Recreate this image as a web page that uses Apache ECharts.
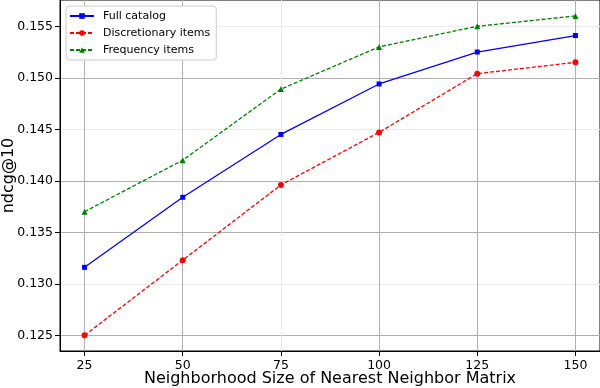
<!DOCTYPE html>
<html>
<head>
<meta charset="utf-8">
<script src="https://cdn.jsdelivr.net/npm/echarts@6/dist/echarts.min.js"></script>
<style>
  html, body { margin: 0; padding: 0; background: #fff; }
  #chart { width: 600px; height: 388px; }
</style>
</head>
<body>
<div id="chart"></div>
<script>
// neighborhood sizes
const sizes = [25, 50, 75, 100, 125, 150]
const yTicks = [0.125, 0.130, 0.135, 0.140, 0.145, 0.150, 0.155]

const fullCatalog = [0.1316, 0.1384, 0.1445, 0.1494, 0.1525, 0.1541]
const discretionary = [0.1250, 0.1323, 0.1396, 0.1447, 0.1504, 0.1515]
const frequency = [0.1370, 0.1420, 0.1489, 0.1530, 0.1550, 0.1560]

const font = 'DejaVu Sans'
const dark = '#b0b0b0'
const light = '#ebebeb'

const pairs = (vals) => sizes.map((s, i) => [s, vals[i]])

const chart = echarts.init(document.getElementById('chart'), null, { renderer: 'canvas' })

const option = {
  animation: false,
  backgroundColor: '#fff',
  textStyle: { fontFamily: font },
  grid: {
    left: 60,
    right: 0,
    top: 0,
    bottom: 37,
    outerBoundsMode: 'none',
    containLabel: false,
    show: true,
    borderColor: '#000',
    borderWidth: 1,
    backgroundColor: 'transparent',
  },
  legend: {
    left: 66,
    top: 6,
    orient: 'vertical',
    itemWidth: 24,
    itemHeight: 7,
    itemGap: 3,
    padding: [3, 6, 3, 3],
    backgroundColor: '#fff',
    borderColor: '#cccccc',
    borderWidth: 1,
    borderRadius: 3,
    textStyle: {
      fontFamily: font,
      fontSize: 11,
      lineHeight: 14,
      color: '#000',
      padding: [0, 0, 0, 4],
    },
    data: ['Full catalog', 'Discretionary items', 'Frequency items'],
  },
  xAxis: {
    type: 'value',
    min: 18.75,
    max: 156.25,
    name: 'Neighborhood Size of Nearest Neighbor Matrix',
    nameLocation: 'middle',
    nameGap: 20,
    nameMoveOverlap: false,
    nameTextStyle: { fontFamily: font, fontSize: 16, color: '#000' },
    axisLine: { onZero: false, lineStyle: { color: '#000', width: 1 } },
    axisTick: { show: true, inside: false, length: 5, customValues: sizes, lineStyle: { color: '#000' } },
    axisLabel: {
      customValues: sizes,
      margin: 8,
      fontFamily: font,
      fontSize: 12.5,
      color: '#000',
    },
    splitLine: {
      show: true,
      lineStyle: { color: [dark, dark, light, dark, dark, dark], width: 1 },
    },
  },
  yAxis: {
    type: 'value',
    min: 0.12348,
    max: 0.15755,
    name: 'ndcg@10',
    nameLocation: 'middle',
    nameGap: 43,
    nameMoveOverlap: false,
    nameTextStyle: { fontFamily: font, fontSize: 16, color: '#000' },
    axisLine: { show: true, onZero: false, lineStyle: { color: '#000', width: 1 } },
    axisTick: { show: true, inside: false, length: 5, customValues: yTicks, lineStyle: { color: '#000' } },
    axisLabel: {
      customValues: yTicks,
      margin: 7,
      fontFamily: font,
      fontSize: 12.5,
      color: '#000',
      formatter: (v) => v.toFixed(3),
    },
    splitLine: {
      show: true,
      lineStyle: { color: [dark, light, dark, dark, light, dark, light], width: 1 },
    },
  },
  series: [
    {
      name: 'Full catalog',
      type: 'line',
      data: pairs(fullCatalog),
      symbol: 'rect',
      symbolSize: 5,
      lineStyle: { color: '#0000ff', width: 1.3, type: 'solid' },
      itemStyle: { color: '#0000ff' },
    },
    {
      name: 'Discretionary items',
      type: 'line',
      data: pairs(discretionary),
      symbol: 'circle',
      symbolSize: 6,
      lineStyle: { color: '#ff0000', width: 1.3, type: [4, 2] },
      itemStyle: { color: '#ff0000' },
    },
    {
      name: 'Frequency items',
      type: 'line',
      data: pairs(frequency),
      symbol: 'triangle',
      symbolSize: 6,
      lineStyle: { color: '#008000', width: 1.3, type: [4, 2] },
      itemStyle: { color: '#008000' },
    },
  ],
}

chart.setOption(option)
</script>
</body>
</html>
